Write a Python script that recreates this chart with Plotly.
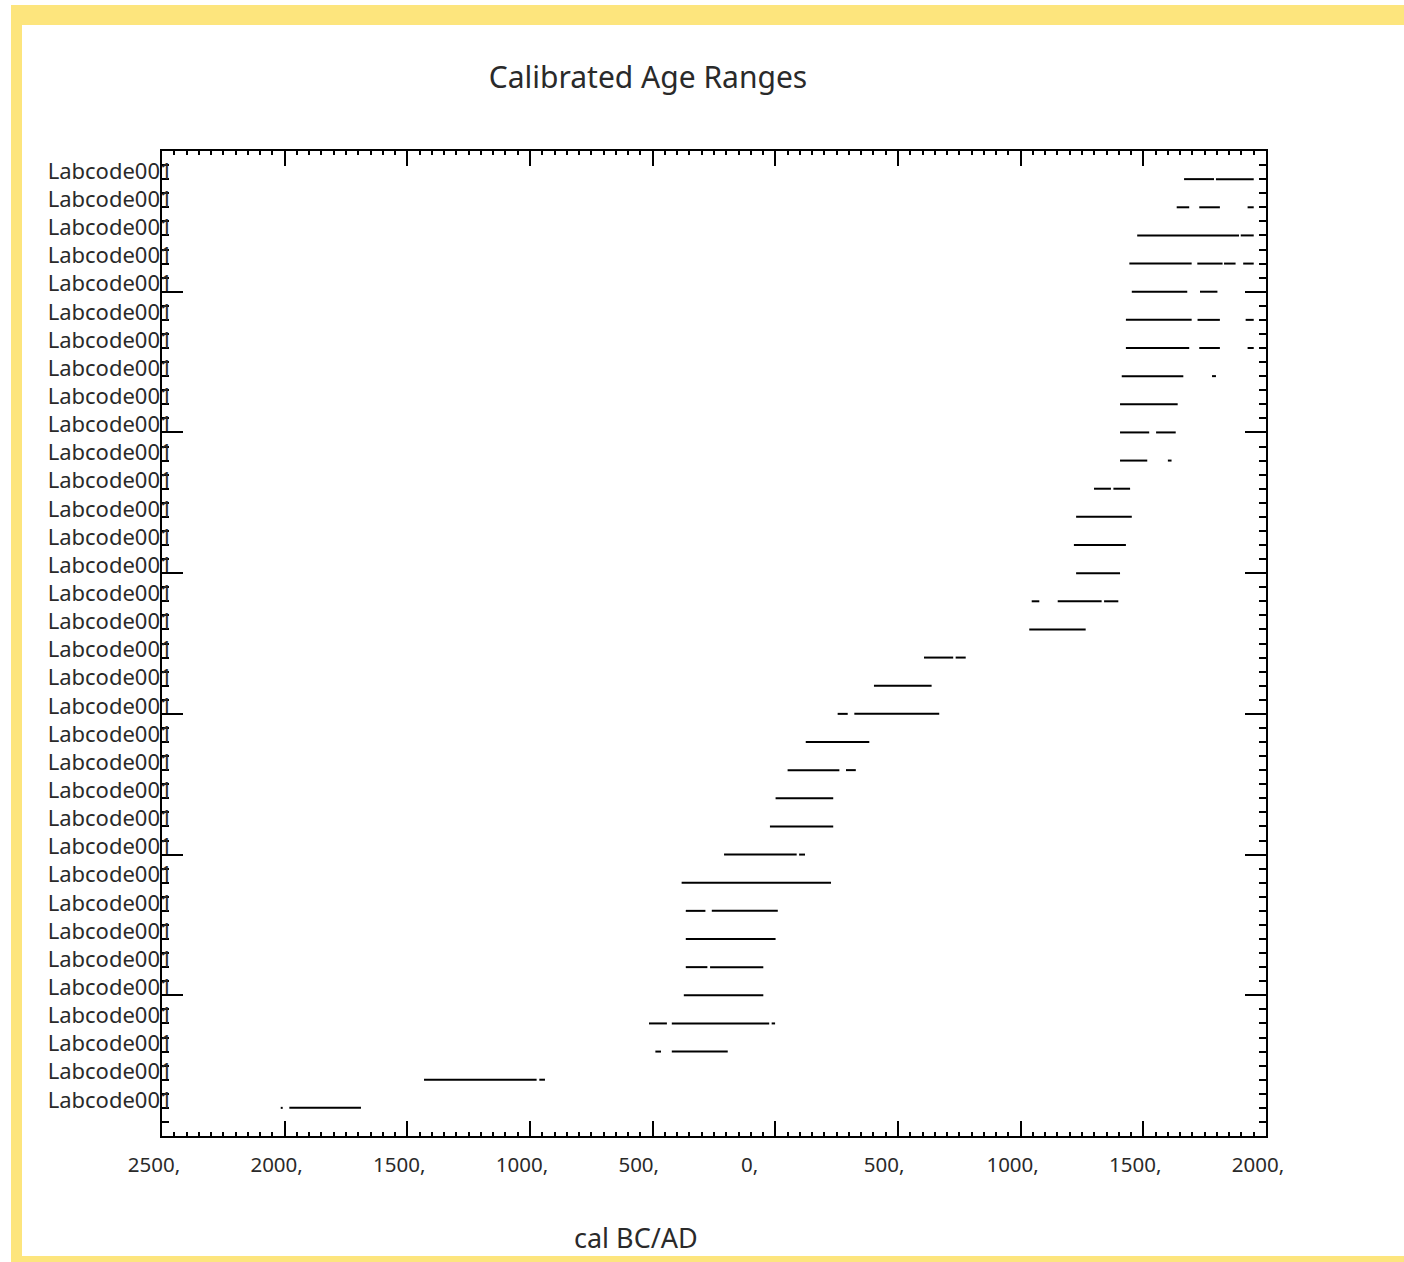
import plotly.graph_objects as go

# ---------------- data ----------------
title_text = "Calibrated Age Ranges"
x_title = "cal BC/AD"
labels = ["Labcode001"] * 34
tick_years = [-2500, -2000, -1500, -1000, -500, 0, 500, 1000, 1500, 2000]
tick_text = ["2500,", "2000,", "1500,", "1000,", "500,", "0,", "500,", "1000,", "1500,", "2000,"]

# calibrated ranges per sample (negative = BC), top row first
age_ranges = [
    [(1666, 1788), (1796, 1950)],
    [(1636, 1687), (1728, 1812), (1925, 1950)],
    [(1475, 1890), (1897, 1950)],
    [(1443, 1697), (1720, 1823), (1829, 1876), (1907, 1950)],
    [(1453, 1679), (1731, 1802)],
    [(1429, 1697), (1721, 1812), (1917, 1950)],
    [(1429, 1687), (1728, 1812), (1925, 1950)],
    [(1412, 1663), (1780, 1796)],
    [(1405, 1640)],
    [(1405, 1524), (1552, 1632)],
    [(1405, 1516), (1600, 1615)],
    [(1299, 1368), (1378, 1446)],
    [(1226, 1453)],
    [(1217, 1429)],
    [(1226, 1405)],
    [(1045, 1076), (1151, 1330), (1340, 1398)],
    [(1035, 1265)],
    [(606, 725), (735, 776)],
    [(402, 637)],
    [(254, 295), (322, 668)],
    [(124, 383)],
    [(50, 261), (288, 328)],
    [(1, 236)],
    [(-22, 236)],
    [(-209, 87), (97, 121)],
    [(-382, 227)],
    [(-365, -285), (-259, 10)],
    [(-365, 1)],
    [(-365, -277), (-266, -49)],
    [(-373, -49)],
    [(-515, -442), (-422, -25), (-15, -1)],
    [(-489, -466), (-422, -194)],
    [(-1432, -973), (-962, -939)],
    [(-2016, -2008), (-1981, -1689)],
]
row_index = list(range(1, len(labels) + 1))
long_tick_rows = [5, 10, 15, 20, 25, 30]

# ---------------- figure ----------------
W, H = 1404, 1262
L, R, T, B = 162, 138, 151, 126
PW, PH = W - L - R, H - T - B

def px_x(px):
    return (px - L) / PW

def px_y(py):
    return (H - B - py) / PH

xs, ys = [], []
for row, segs in zip(row_index, age_ranges):
    for a, b in segs:
        xs += [a, b, None]
        ys += [row, row, None]

FONT = "Noto Sans"
TXT = "#2a2a2a"

fig = go.Figure()
fig.add_trace(go.Scatter(x=xs, y=ys, mode="lines",
                         line=dict(color="black", width=2),
                         hoverinfo="skip", showlegend=False))
# invisible trace to activate the secondary (long tick) axis
fig.add_trace(go.Scatter(x=[None], y=[None], yaxis="y2", showlegend=False, hoverinfo="skip"))

fig.update_layout(
    width=W, height=H,
    margin=dict(l=L, r=R, t=T, b=B, pad=0),
    paper_bgcolor="white", plot_bgcolor="white",
    showlegend=False,
    title=dict(text=title_text, xref="container", yref="container",
               x=648 / W, y=1 - 77 / H, xanchor="center", yanchor="middle",
               font=dict(family=FONT, size=30, color=TXT)),
    xaxis=dict(range=[-2500, 2000], tickmode="array", tickvals=tick_years, ticktext=tick_text,
               ticks="inside", ticklen=15, tickwidth=1.5, tickcolor="black",
               showline=True, linecolor="black", linewidth=2, mirror="ticks",
               showgrid=False, zeroline=False,
               ticklabelposition="outside right", ticklabelshift=-36, ticklabelstandoff=9,
               tickfont=dict(family=FONT, size=20.5, color=TXT),
               minor=dict(dtick=50, tick0=0, ticks="inside", ticklen=4, tickwidth=1.5,
                          tickcolor="black", showgrid=False)),
    yaxis=dict(range=[35, 0], tickmode="array", tickvals=row_index, ticktext=labels,
               ticks="inside", ticklen=7, tickwidth=1.5, tickcolor="black",
               showline=True, linecolor="black", linewidth=2, mirror="ticks",
               showgrid=False, zeroline=False,
               ticklabelstandoff=-17, ticklabelshift=8,
               tickfont=dict(family=FONT, size=22, color=TXT),
               minor=dict(tickmode="array", tickvals=[r - 0.5 for r in row_index] + [34.5],
                          ticks="inside", ticklen=7, tickwidth=1.5, tickcolor="black",
                          showgrid=False)),
    yaxis2=dict(range=[35, 0], overlaying="y", side="left", anchor="x",
                tickmode="array", tickvals=long_tick_rows,
                ticks="inside", ticklen=21, tickwidth=1.5, tickcolor="black",
                showticklabels=False, showline=False, mirror="ticks",
                showgrid=False, zeroline=False),
    annotations=[dict(text=x_title, xref="paper", yref="paper",
                      x=px_x(636), y=px_y(1237), xanchor="center", yanchor="middle",
                      showarrow=False, font=dict(family=FONT, size=27, color=TXT))],
    shapes=[
        dict(type="rect", xref="paper", yref="paper", layer="below",
             x0=px_x(11), x1=px_x(W + 20), y0=px_y(H + 20), y1=px_y(5),
             fillcolor="#fde57d", line=dict(width=0)),
        dict(type="rect", xref="paper", yref="paper", layer="below",
             x0=px_x(22), x1=px_x(W + 20), y0=px_y(1256), y1=px_y(25),
             fillcolor="white", line=dict(width=0)),
    ],
)

fig.write_html("out.html", config={"displayModeBar": False},
               post_script="document.body.style.margin='0';document.body.style.overflow='hidden';")
